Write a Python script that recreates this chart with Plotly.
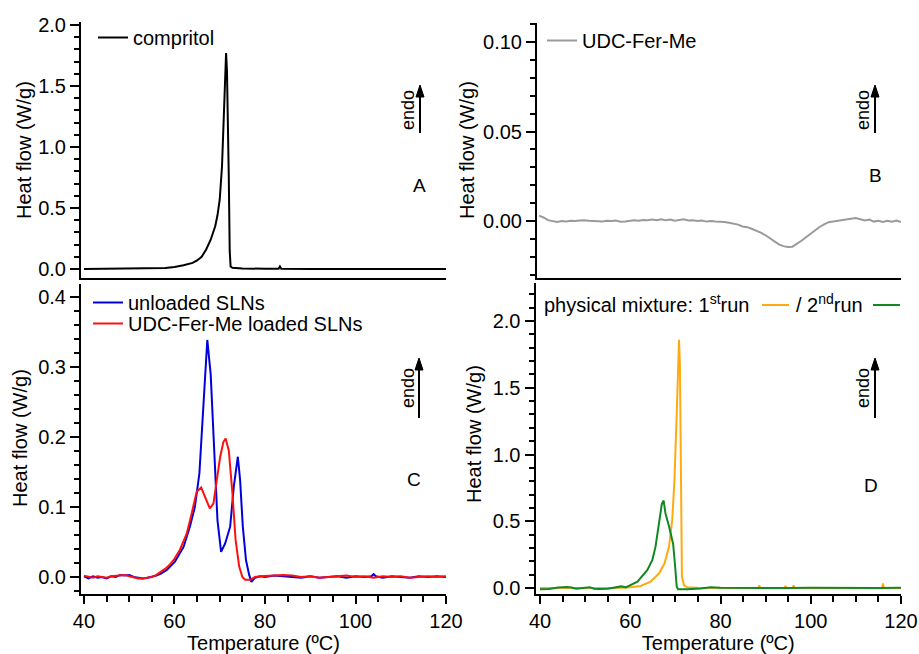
import plotly.graph_objects as go

W, H = 919, 654

# ---------------- data ----------------
# Panel A: compritol
temp_a = [40, 45, 50, 55, 58, 60, 62, 64, 65, 66, 67, 68, 68.5, 69, 69.5, 70, 70.5, 71, 71.2,
          71.4, 71.6, 71.8, 72.0, 72.2, 72.4, 72.8, 75, 80, 83.0, 83.3, 83.6, 90, 100, 110, 120]
compritol = [0.0, 0.001, 0.002, 0.004, 0.009, 0.017, 0.03, 0.05, 0.07, 0.1, 0.16, 0.24, 0.29, 0.35,
             0.44, 0.57, 0.84, 1.30, 1.55, 1.77, 1.62, 1.3, 0.75, 0.15, 0.02, 0.01, 0.004, 0.002,
             0.001, 0.02, 0.001, 0.0, 0.0, -0.001, 0.0]

# Panel B: UDC-Fer-Me
temp_b = list(range(40, 121))
udc = [0.0030, 0.0020, 0.0005, 0.0000, -0.0005, 0.0000, -0.0003, 0.0002, 0.0000, 0.0003,
       0.0005, 0.0002, 0.0000, -0.0005, -0.0003, 0.0002, 0.0000, 0.0003, -0.0004, -0.0002,
       0.0003, 0.0005, 0.0002, 0.0006, 0.0004, 0.0008, 0.0005, 0.0010, 0.0004, 0.0008,
       0.0002, 0.0006, 0.0010, 0.0003, 0.0005, 0.0001, 0.0003, -0.0003, 0.0000, -0.0003,
       -0.0003, -0.0005, -0.0010, -0.0013, -0.0020, -0.0030, -0.0034, -0.0043, -0.0053, -0.0065,
       -0.0078, -0.0095, -0.0115, -0.0130, -0.0140, -0.0145, -0.0143, -0.0128, -0.0110, -0.0090,
       -0.0070, -0.0050, -0.0033, -0.0018, -0.0006, -0.0002, 0.0002, 0.0005, 0.0007, 0.0015,
       0.0017, 0.0010, 0.0003, 0.0008, -0.0003, 0.0002, -0.0005, 0.0001, -0.0004, 0.0003,
       -0.0005]

# Panel C: SLNs
temp_c_blue = [40, 41, 42, 43, 44, 45, 46, 47, 48, 49, 50, 51, 52, 53, 54, 55, 56, 57, 58.3, 60.1,
               62, 63.4, 64.5, 65.5, 66, 66.5, 67.25, 68, 68.7, 69.5, 70.3, 71.2, 72.3, 73.1, 74.0,
               74.5, 75.1, 75.8, 76.5, 77.0, 77.8, 79, 80, 82, 84, 86, 88, 90, 92, 94, 96, 98, 100,
               102, 103.5, 104, 104.5, 106, 108, 110, 112, 114, 116, 118, 120]
unloaded = [0.001, -0.002, 0.001, -0.001, 0.0, -0.002, 0.001, 0.0, 0.003, 0.002, 0.003, 0.0, -0.001,
            -0.002, -0.001, 0.0, 0.002, 0.005, 0.01, 0.022, 0.043, 0.072, 0.10, 0.148, 0.2, 0.258,
            0.339, 0.29, 0.186, 0.081, 0.036, 0.048, 0.072, 0.129, 0.172, 0.139, 0.072, 0.024,
            0.003, -0.007, -0.001, 0.001, 0.0, 0.002, 0.001, 0.0, -0.001, 0.001, -0.001, 0.0, 0.001,
            -0.001, 0.001, 0.0, 0.001, 0.004, 0.001, -0.001, 0.001, 0.0, -0.001, 0.001, 0.0, 0.001,
            0.0]
temp_c_red = [40, 41, 42, 43, 44, 45, 46, 47, 48, 49, 50, 51, 52, 53, 54, 55, 56, 57, 58, 59, 60,
              61.2, 62.7, 63.8, 64.9, 65.9, 66.7, 67.8, 68.6, 69.3, 70.1, 70.8, 71.3, 72.0, 72.8,
              73.5, 74.3, 75.0, 75.6, 76.7, 77.8, 79, 80.4, 82, 84, 86, 88, 90, 92, 94, 96, 98, 100,
              102, 104, 106, 108, 110, 112, 114, 116, 118, 120]
loaded = [0.002, 0.0, -0.001, 0.001, 0.0, -0.001, 0.001, 0.002, 0.002, 0.003, 0.001, -0.001, -0.002,
          -0.002, -0.001, 0.0, 0.003, 0.007, 0.012, 0.018, 0.026, 0.039, 0.062, 0.091, 0.122, 0.128,
          0.115, 0.098, 0.105, 0.139, 0.172, 0.193, 0.198, 0.181, 0.12, 0.053, 0.015, 0.0, -0.004,
          -0.004, 0.0, 0.001, 0.0015, 0.002, 0.003, 0.002, 0.0, 0.001, -0.001, 0.0, 0.001, 0.002,
          0.0, 0.001, -0.001, 0.001, 0.0, 0.001, -0.001, 0.0, 0.001, 0.0, 0.001]

# Panel D: physical mixture
temp_d1 = [40, 45, 50, 55, 58, 60, 62.3, 64.5, 66.4, 67.6, 68.6, 69.3, 69.8, 70.3, 70.6, 70.8,
           71.0, 71.2, 71.45, 71.9, 72.6, 75, 80, 85, 88.4, 88.6, 88.8, 94.2, 94.4, 94.6, 96.0,
           96.2, 96.4, 100, 110, 115.8, 116.0, 116.2, 120]
run1 = [0.0, 0.0, -0.002, 0.0, 0.002, 0.005, 0.015, 0.047, 0.11, 0.185, 0.31, 0.51, 0.81, 1.31,
        1.68, 1.86, 1.68, 0.81, 0.085, 0.022, 0.005, 0.002, 0.0, 0.0, 0.0, 0.02, 0.0, 0.0, 0.015,
        0.0, 0.0, 0.02, 0.0, 0.0, 0.0, 0.0, 0.035, 0.0, 0.0]
temp_d2 = [40, 42, 44, 45, 46, 47, 48, 50, 51, 52, 53, 55, 57, 58, 59, 60.1, 61.6, 63.8, 64.9,
           65.6, 66.4, 67.0, 67.4, 67.8, 68.6, 69.5, 69.9, 70.3, 70.6, 72.6, 75.6, 77.8, 80, 85,
           90, 95, 100, 105, 110, 115, 120]
run2 = [-0.01, -0.008, 0.003, 0.008, 0.008, 0.003, -0.005, 0.002, 0.005, -0.005, -0.008, -0.005,
        0.01, 0.012, 0.005, 0.022, 0.047, 0.135, 0.21, 0.31, 0.48, 0.63, 0.655, 0.56, 0.46, 0.33,
        0.18, 0.01, -0.01, -0.01, -0.003, 0.005, 0.002, 0.0, -0.002, 0.0, 0.002, 0.0, 0.001, 0.0,
        0.001]

x_ticks = [40, 60, 80, 100, 120]
y_label = "Heat flow (W/g)"
x_label = "Temperature (ºC)"

# ---------------- helpers ----------------
FONT = "Liberation Sans, Arial, sans-serif"
FS = 20


def px(x):
    return x / W


def py(y):
    return 1 - y / H


def xaxis(dom, rng, bottom, anchor):
    d = dict(domain=[px(dom[0]), px(dom[1])], range=rng, showgrid=False, zeroline=False,
             showline=True, linecolor="black", linewidth=2, anchor=anchor, automargin=False,
             tickvals=x_ticks, tickfont=dict(size=FS, color="black", family=FONT))
    if bottom:
        d.update(ticks="outside", ticklen=8, tickwidth=2, tickcolor="black",
                 showticklabels=True,
                 minor=dict(dtick=5, tick0=40, ticks="outside", ticklen=6, tickwidth=2,
                            tickcolor="black"),
                 title=dict(text=x_label, font=dict(size=FS, color="black", family=FONT),
                            standoff=0))
    else:
        d.update(ticks="", showticklabels=False)
    return d


def yaxis(dom, rng, dtick, minor, fmt, anchor):
    return dict(domain=[py(dom[1]), py(dom[0])], range=rng, showgrid=False, zeroline=False,
                showline=True, linecolor="black", linewidth=2, anchor=anchor, automargin=False,
                ticks="outside", ticklen=9, tickwidth=2, tickcolor="black",
                dtick=dtick, tick0=0, tickformat=fmt,
                tickfont=dict(size=FS, color="black", family=FONT),
                minor=dict(dtick=minor, tick0=0, ticks="outside", ticklen=5, tickwidth=1.5,
                           tickcolor="black"))


fig = go.Figure()
fig.add_trace(go.Scatter(x=temp_a, y=compritol, mode="lines", name="compritol",
                         line=dict(color="black", width=2), xaxis="x", yaxis="y",
                         legend="legend"))
fig.add_trace(go.Scatter(x=temp_b, y=udc, mode="lines", name="UDC-Fer-Me",
                         line=dict(color="#9a9a9a", width=2), xaxis="x2", yaxis="y2",
                         legend="legend2"))
fig.add_trace(go.Scatter(x=temp_c_blue, y=unloaded, mode="lines", name="unloaded SLNs",
                         line=dict(color="#0000dd", width=2), xaxis="x3", yaxis="y3",
                         legend="legend3"))
fig.add_trace(go.Scatter(x=temp_c_red, y=loaded, mode="lines", name="UDC-Fer-Me loaded SLNs",
                         line=dict(color="#ff1010", width=2), xaxis="x3", yaxis="y3",
                         legend="legend4"))
fig.add_trace(go.Scatter(x=temp_d1, y=run1, mode="lines", name="1st run",
                         line=dict(color="#ffaa11", width=2), xaxis="x4", yaxis="y4",
                         showlegend=False))
fig.add_trace(go.Scatter(x=temp_d2, y=run2, mode="lines", name="2nd run",
                         line=dict(color="#118822", width=2), xaxis="x4", yaxis="y4",
                         showlegend=False))

leg_common = dict(bgcolor="rgba(0,0,0,0)", font=dict(size=FS, color="black", family=FONT),
                  xanchor="left", yanchor="top", tracegroupgap=0, itemwidth=30,
                  borderwidth=0)

fig.update_layout(
    width=W, height=H, autosize=False,
    margin=dict(l=0, r=0, t=0, b=0, autoexpand=False),
    paper_bgcolor="white", plot_bgcolor="white",
    font=dict(family=FONT, color="black"),
    xaxis=xaxis((81, 446), [39.34, 120], False, "y"),
    yaxis=yaxis((22, 278), [-0.074, 2.025], 0.5, 0.1, ".1f", "x"),
    xaxis2=xaxis((537, 901), [39.56, 120], False, "y2"),
    yaxis2=yaxis((22.5, 278), [-0.0318, 0.1109], 0.05, 0.01, ".2f", "x2"),
    xaxis3=xaxis((81, 446), [39.34, 120], True, "y3"),
    yaxis3=yaxis((284, 594), [-0.0243, 0.419], 0.1, 0.02, ".1f", "x3"),
    xaxis4=xaxis((535.5, 901), [39.0, 120], True, "y4"),
    yaxis4=yaxis((283, 594), [-0.045, 2.285], 0.5, 0.1, ".1f", "x4"),
    legend=dict(x=px(93), y=py(18), **leg_common),
    legend2=dict(x=px(542), y=py(21), **leg_common),
    legend3=dict(x=px(88), y=py(283), **leg_common),
    legend4=dict(x=px(88), y=py(304), **leg_common),
)

ann = []
shapes = []
# y-axis titles
for (xt, yt) in [(24, 150), (467, 150), (20, 438), (474, 434)]:
    ann.append(dict(x=px(xt), y=py(yt), xref="paper", yref="paper", text=y_label,
                    textangle=-90, showarrow=False, xanchor="center", yanchor="middle",
                    font=dict(size=FS, color="black", family=FONT)))

# endo arrows and panel letters
for (xa, ytip, ytail, xt, yt, letter, xl, yl) in [
    (420, 85, 133, 408, 110, "A", 419, 185),
    (875, 85, 133, 863, 110, "B", 875, 175),
    (419, 358, 418, 408, 388, "C", 414, 479),
    (875, 358, 418, 863, 388, "D", 871, 485),
]:
    shapes.append(dict(type="line", xref="paper", yref="paper", x0=px(xa), x1=px(xa),
                       y0=py(ytail), y1=py(ytip + 8), line=dict(color="black", width=2)))
    shapes.append(dict(type="path", xref="paper", yref="paper",
                       path=f"M {px(xa)} {py(ytip)} L {px(xa - 4)} {py(ytip + 12)} "
                            f"L {px(xa + 4)} {py(ytip + 12)} Z",
                       fillcolor="black", line=dict(color="black", width=1)))
    ann.append(dict(x=px(xt), y=py(yt), xref="paper", yref="paper", text="endo",
                    textangle=-90, showarrow=False, font=dict(size=18, color="black", family=FONT),
                    xanchor="center", yanchor="middle"))
    ann.append(dict(x=px(xl), y=py(yl), xref="paper", yref="paper", text=letter,
                    showarrow=False, font=dict(size=19, color="black", family=FONT),
                    xanchor="center", yanchor="middle"))

# panel D legend (text then line sample)
ann.append(dict(x=px(542), y=py(304), xref="paper", yref="paper",
                text="physical mixture: 1<sup>st</sup>run", showarrow=False,
                xanchor="left", yanchor="middle", font=dict(size=FS, color="black", family=FONT)))
ann.append(dict(x=px(794), y=py(304), xref="paper", yref="paper",
                text="/ 2<sup>nd</sup>run", showarrow=False,
                xanchor="left", yanchor="middle", font=dict(size=FS, color="black", family=FONT)))
shapes.append(dict(type="line", xref="paper", yref="paper", x0=px(762), x1=px(789),
                   y0=py(305), y1=py(305), line=dict(color="#ffaa11", width=2)))
shapes.append(dict(type="line", xref="paper", yref="paper", x0=px(873), x1=px(900),
                   y0=py(305), y1=py(305), line=dict(color="#118822", width=2)))

fig.update_layout(annotations=ann, shapes=shapes)
fig.write_html(
    "out.html",
    config={"displayModeBar": False},
    post_script="document.body.style.margin='0';document.body.style.overflow='hidden';",
)
